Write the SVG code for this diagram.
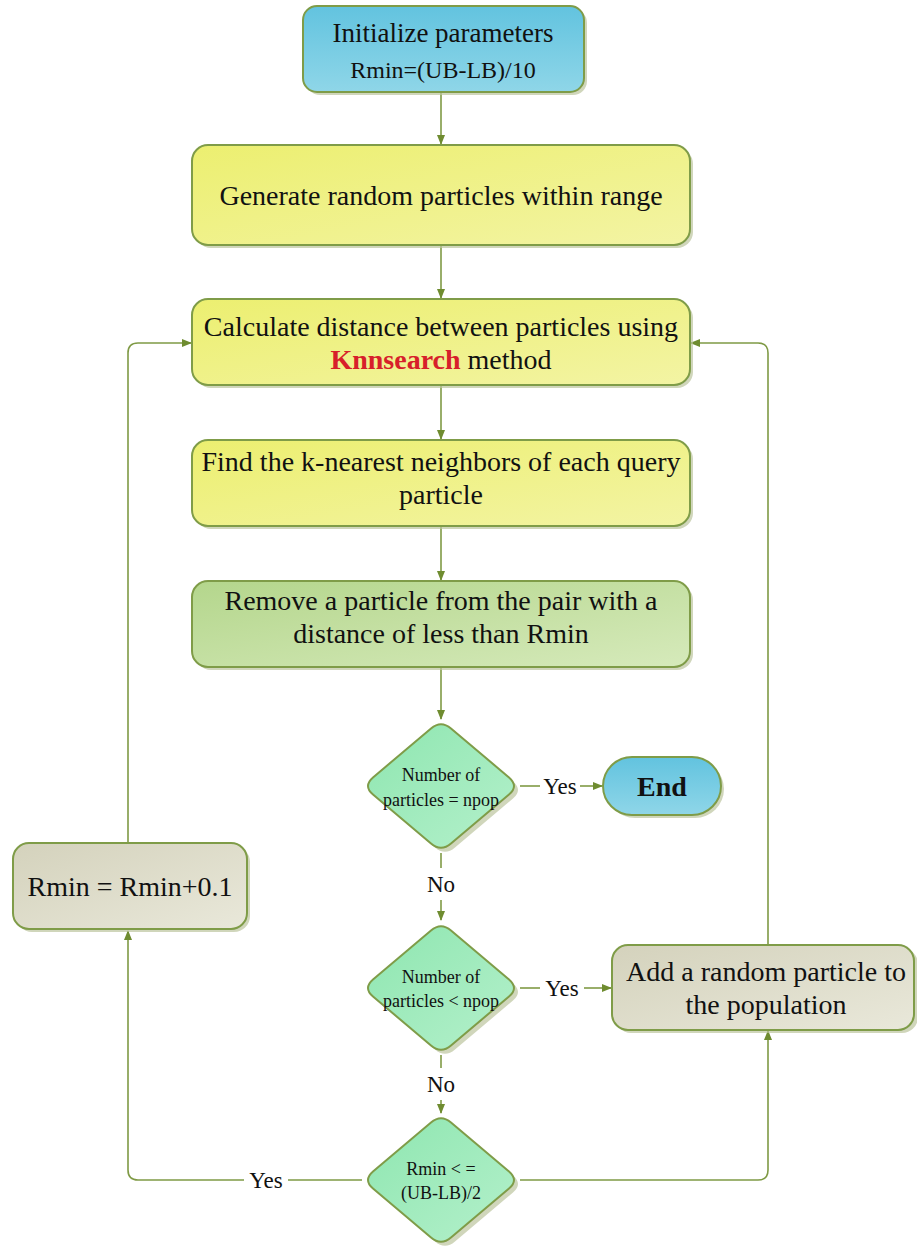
<svg xmlns="http://www.w3.org/2000/svg" width="917" height="1249" viewBox="0 0 917 1249">
<defs>
<linearGradient id="gBlue" x1="0" y1="0" x2="0" y2="1"><stop offset="0" stop-color="#62c3df"/><stop offset="1" stop-color="#8fd6e8"/></linearGradient>
<linearGradient id="gYel" x1="0" y1="0" x2="1" y2="1"><stop offset="0" stop-color="#ecef70"/><stop offset="1" stop-color="#f3f4a4"/></linearGradient>
<linearGradient id="gGrn" x1="0" y1="0" x2="1" y2="1"><stop offset="0" stop-color="#b4d68c"/><stop offset="1" stop-color="#d6eabb"/></linearGradient>
<linearGradient id="gMint" x1="0" y1="0" x2="1" y2="1"><stop offset="0" stop-color="#8ee6b0"/><stop offset="1" stop-color="#b4f0cb"/></linearGradient>
<linearGradient id="gTan" x1="0" y1="0" x2="1" y2="1"><stop offset="0" stop-color="#d4d2bc"/><stop offset="1" stop-color="#e9e8da"/></linearGradient>
<marker id="ah" markerWidth="10" markerHeight="8" refX="9" refY="4" orient="auto" markerUnits="userSpaceOnUse"><path d="M0,0 L10,4 L0,8 Z" fill="#6f8c30"/></marker>
</defs>
<style>
.box{stroke:#7f9c48;stroke-width:2}
.sh{fill:#bcc59e;opacity:0.7}
.t{font-family:"Liberation Serif",serif;fill:#111;text-anchor:middle}
.big{font-size:28px}
.sm{font-size:18px}
.lbl{font-size:23px}
.c{fill:none;stroke:#7f9a45;stroke-width:1.6}
</style>

<g id="connectors">
<line class="c" x1="441" y1="93" x2="441" y2="144" marker-end="url(#ah)"/>
<line class="c" x1="441" y1="246" x2="441" y2="298" marker-end="url(#ah)"/>
<line class="c" x1="441" y1="386" x2="441" y2="439" marker-end="url(#ah)"/>
<line class="c" x1="441" y1="527" x2="441" y2="580" marker-end="url(#ah)"/>
<line class="c" x1="441" y1="668" x2="441" y2="719" marker-end="url(#ah)"/>
<line class="c" x1="520" y1="786" x2="540" y2="786"/>
<line class="c" x1="580" y1="786" x2="602" y2="786" marker-end="url(#ah)"/>
<line class="c" x1="441" y1="853" x2="441" y2="868"/>
<line class="c" x1="441" y1="900" x2="441" y2="920" marker-end="url(#ah)"/>
<line class="c" x1="520" y1="988" x2="540" y2="988"/>
<line class="c" x1="584" y1="988" x2="611" y2="988" marker-end="url(#ah)"/>
<line class="c" x1="441" y1="1055" x2="441" y2="1068"/>
<line class="c" x1="441" y1="1100" x2="441" y2="1113" marker-end="url(#ah)"/>
<path class="c" d="M362,1180 H288 M244,1180 H138 Q128,1180 128,1170 V931" marker-end="url(#ah)"/>
<path class="c" d="M128,843 V353 Q128,343 138,343 H191" marker-end="url(#ah)"/>
<path class="c" d="M520,1180 H758 Q768,1180 768,1170 V1031" marker-end="url(#ah)"/>
<path class="c" d="M768,945 V353 Q768,343 758,343 H691" marker-end="url(#ah)"/>
</g>

<g id="n-init">
<rect class="sh" x="306" y="9" width="281" height="86" rx="14"/>
<rect class="box" x="303" y="6" width="281" height="86" rx="14" fill="url(#gBlue)"/>
<text class="t" x="443" y="42" font-size="27">Initialize parameters</text>
<text class="t" x="443" y="78" font-size="24">Rmin=(UB-LB)/10</text>
</g>

<g id="n-generate">
<rect class="sh" x="195" y="148" width="498" height="100" rx="16"/>
<rect class="box" x="192" y="145" width="498" height="100" rx="16" fill="url(#gYel)"/>
<text class="t big" x="441" y="205">Generate random particles within range</text>
</g>

<g id="n-calc">
<rect class="sh" x="195" y="302" width="498" height="86" rx="16"/>
<rect class="box" x="192" y="299" width="498" height="86" rx="16" fill="url(#gYel)"/>
<text class="t big" x="441" y="336">Calculate distance between particles using</text>
<text class="t big" x="441" y="369"><tspan fill="#d7202a" font-weight="bold">Knnsearch</tspan> method</text>
</g>

<g id="n-find">
<rect class="sh" x="195" y="443" width="498" height="86" rx="16"/>
<rect class="box" x="192" y="440" width="498" height="86" rx="16" fill="url(#gYel)"/>
<text class="t big" x="441" y="471">Find the k-nearest neighbors of each query</text>
<text class="t big" x="441" y="504">particle</text>
</g>

<g id="n-remove">
<rect class="sh" x="195" y="584" width="498" height="86" rx="16"/>
<rect class="box" x="192" y="581" width="498" height="86" rx="16" fill="url(#gGrn)"/>
<text class="t big" x="441" y="610">Remove a particle from the pair with a</text>
<text class="t big" x="441" y="643">distance of less than Rmin</text>
</g>

<g id="n-dec1">
<path class="sh" transform="translate(4,4)" d="M431,728.6 Q441,720 451,728.6 L509,777.4 Q519,786 509,794.6 L451,843.4 Q441,852 431,843.4 L373,794.6 Q363,786 373,777.4 Z"/>
<path class="box" fill="url(#gMint)" d="M431,728.6 Q441,720 451,728.6 L509,777.4 Q519,786 509,794.6 L451,843.4 Q441,852 431,843.4 L373,794.6 Q363,786 373,777.4 Z"/>
<text class="t sm" x="441" y="781">Number of</text>
<text class="t sm" x="441" y="806">particles = npop</text>
</g>

<g id="n-end">
<rect class="sh" x="606" y="760" width="118" height="58" rx="29"/>
<rect class="box" x="603" y="757" width="118" height="58" rx="29" fill="url(#gBlue)"/>
<text class="t" x="662" y="796" font-size="28" font-weight="bold">End</text>
</g>

<g id="n-dec2">
<path class="sh" transform="translate(4,4)" d="M431,930.6 Q441,922 451,930.6 L509,979.4 Q519,988 509,996.6 L451,1045.4 Q441,1054 431,1045.4 L373,996.6 Q363,988 373,979.4 Z"/>
<path class="box" fill="url(#gMint)" d="M431,930.6 Q441,922 451,930.6 L509,979.4 Q519,988 509,996.6 L451,1045.4 Q441,1054 431,1045.4 L373,996.6 Q363,988 373,979.4 Z"/>
<text class="t sm" x="441" y="983">Number of</text>
<text class="t sm" x="441" y="1007">particles &lt; npop</text>
</g>

<g id="n-add">
<rect class="sh" x="615" y="948" width="303" height="85" rx="16"/>
<rect class="box" x="612" y="945" width="302" height="85" rx="16" fill="url(#gTan)"/>
<text class="t big" x="766" y="981">Add a random particle to</text>
<text class="t big" x="766" y="1014">the population</text>
</g>

<g id="n-dec3">
<path class="sh" transform="translate(4,4)" d="M431,1122.6 Q441,1114 451,1122.6 L509,1171.4 Q519,1180 509,1188.6 L451,1237.4 Q441,1246 431,1237.4 L373,1188.6 Q363,1180 373,1171.4 Z"/>
<path class="box" fill="url(#gMint)" d="M431,1122.6 Q441,1114 451,1122.6 L509,1171.4 Q519,1180 509,1188.6 L451,1237.4 Q441,1246 431,1237.4 L373,1188.6 Q363,1180 373,1171.4 Z"/>
<text class="t sm" x="441" y="1175">Rmin &lt; =</text>
<text class="t sm" x="441" y="1199">(UB-LB)/2</text>
</g>

<g id="n-rmin">
<rect class="sh" x="16" y="846" width="234" height="86" rx="16"/>
<rect class="box" x="13" y="843" width="234" height="86" rx="16" fill="url(#gTan)"/>
<text class="t big" x="130" y="896">Rmin = Rmin+0.1</text>
</g>

<g id="labels">
<text class="t lbl" x="560" y="794">Yes</text>
<text class="t lbl" x="441" y="892">No</text>
<text class="t lbl" x="562" y="996">Yes</text>
<text class="t lbl" x="441" y="1092">No</text>
<text class="t lbl" x="266" y="1188">Yes</text>
</g>
</svg>
